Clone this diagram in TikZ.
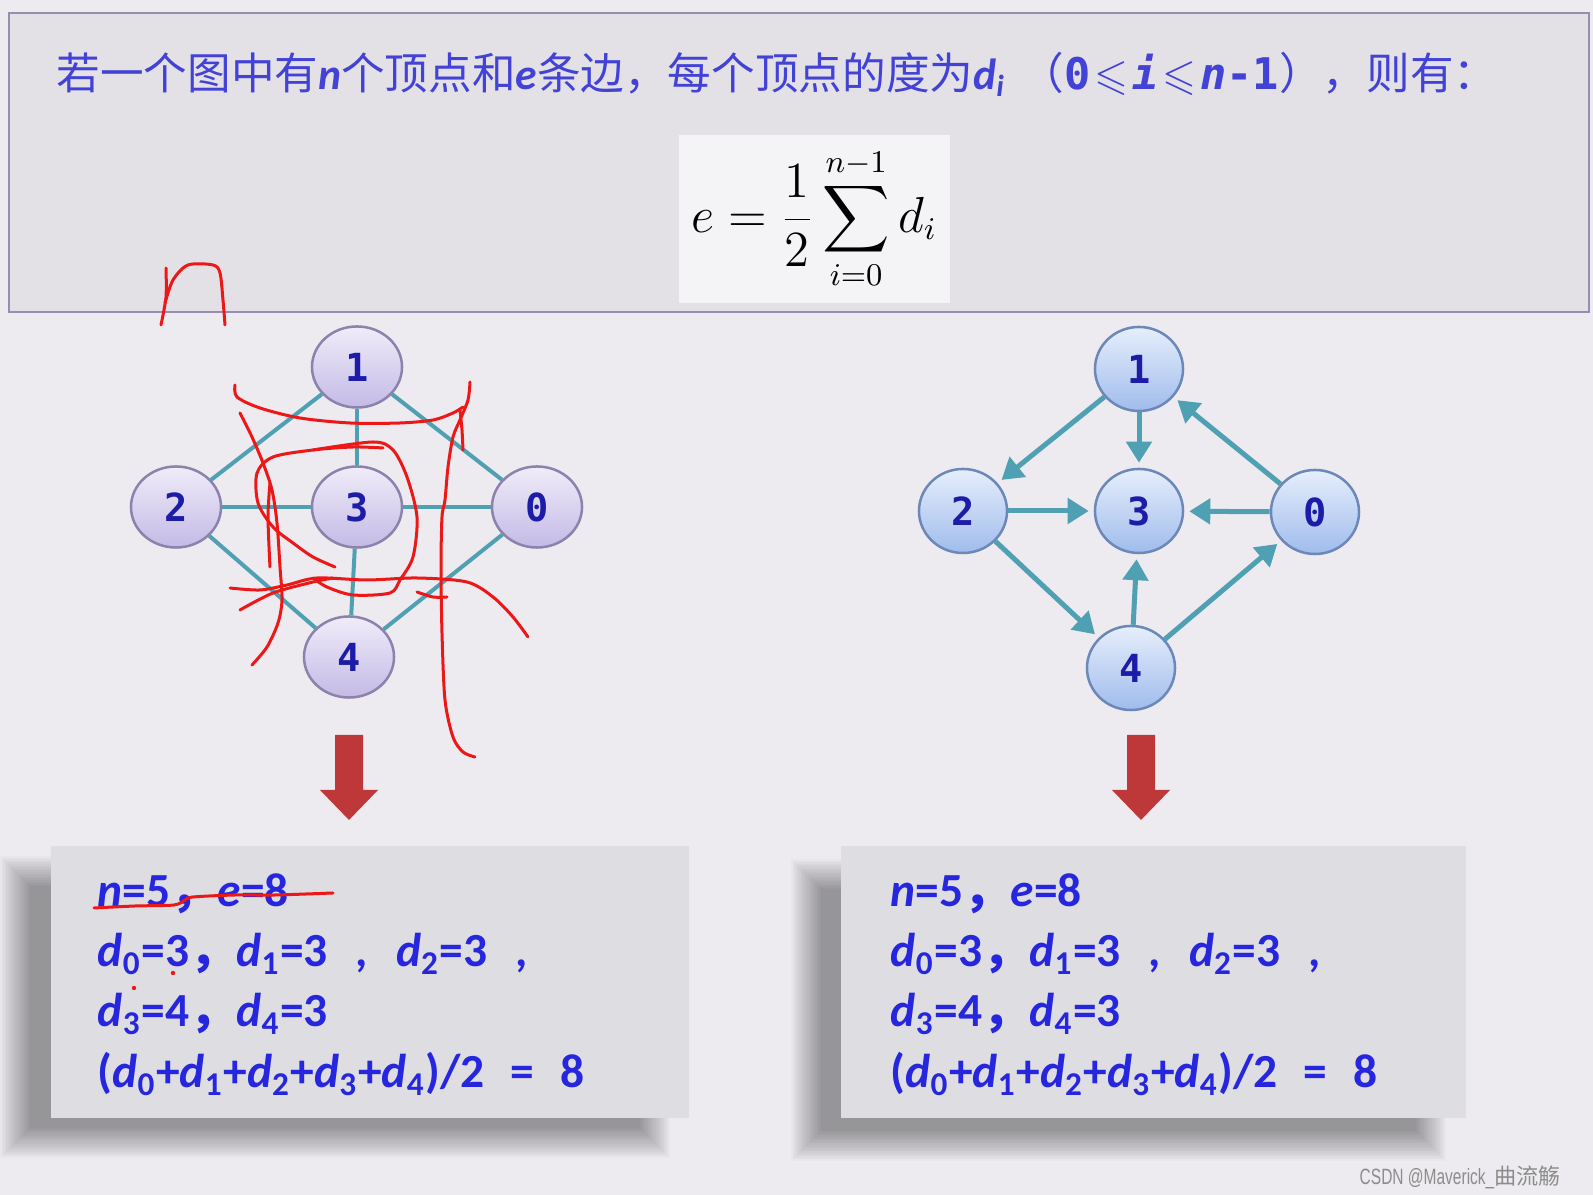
\documentclass[tikz,border=0pt]{standalone}
\usepackage{fontspec}
\usepackage{amssymb}
\setmainfont{Carlito}
\newfontfamily\cjk{Noto Sans CJK SC}
\newfontfamily\numfont{DejaVu Sans Mono}
\newfontfamily\wmfont[FakeStretch=0.7]{Liberation Sans}
\usetikzlibrary{positioning,arrows.meta,shapes.geometric}

\definecolor{pagebg}{RGB}{237,235,239}
\definecolor{headbg}{RGB}{227,225,230}
\definecolor{headline}{RGB}{150,142,178}
\definecolor{eqbg}{RGB}{244,243,245}
\definecolor{inkblue}{RGB}{66,66,214}
\definecolor{txtblue}{RGB}{38,38,222}
\definecolor{numblue}{RGB}{28,28,168}
\definecolor{edgeteal}{RGB}{78,160,178}
\definecolor{lavtop}{RGB}{240,236,249}
\definecolor{lavbot}{RGB}{196,186,230}
\definecolor{lavrim}{RGB}{140,130,172}
\definecolor{skytop}{RGB}{230,238,252}
\definecolor{skybot}{RGB}{160,188,236}
\definecolor{skyrim}{RGB}{108,136,184}
\definecolor{dropred}{RGB}{190,56,58}
\definecolor{boxbg}{RGB}{222,221,225}
\definecolor{penred}{RGB}{236,24,24}

\newcommand{\dd}[1]{\textit{d}\textsubscript{#1}}
\newcommand{\downblock}[1]{%
  \fill[dropred] ({#1-14},735) -- ({#1+14},735) -- ({#1+14},790) -- ({#1+29},790)
    -- (#1,820) -- ({#1-29},790) -- ({#1-14},790) -- cycle;}

\begin{document}
\begin{tikzpicture}[x=0.01cm, y=-0.01cm, >=Stealth,
  vtx/.style={ellipse, draw=lavrim, line width=0.25mm, top color=lavtop, bottom color=lavbot,
    minimum width=9mm, minimum height=8.1mm, inner sep=0pt, text=numblue,
    font=\numfont\bfseries\fontsize{11}{13}\selectfont},
  dvtx/.style={vtx, draw=skyrim, top color=skytop, bottom color=skybot,
    minimum width=8.8mm, minimum height=8.4mm},
  edg/.style={draw=edgeteal, line width=0.4mm},
  darc/.style={edg, line width=0.5mm, -{Triangle[length=2.1mm,width=2.5mm]}, shorten >=0.5mm},
  ink/.style={draw=penred, line width=0.3mm, line cap=round, line join=round},
  row/.style={anchor=base west, inner sep=0pt, text=txtblue,
    font=\bfseries\fontsize{13.5}{16}\selectfont}]
  \fill[pagebg] (0,0) rectangle (1593,1195);
  \useasboundingbox (0,0) rectangle (1593,1195);

  % heading panel
  \filldraw[fill=headbg, draw=headline, line width=0.25mm] (9,13) rectangle (1589,312);
  \node[anchor=base west, inner sep=0pt, text=inkblue, font=\cjk\fontsize{12.4}{14}\selectfont] (head) at (56,90)
    {若一个图中有{\rmfamily\bfseries\itshape n}个顶点和{\rmfamily\bfseries\itshape e}条边，每个顶点的度为{\rmfamily\bfseries\itshape d\textsubscript{i}}\hspace{1.5mm}（{\numfont\bfseries 0\hspace{0.4mm}$\leqslant$\hspace{0.4mm}\itshape i\upshape\hspace{0.4mm}$\leqslant$\hspace{0.4mm}\itshape n\upshape -1}），则有：};
  \fill[eqbg] (679,135) rectangle (950,303);
  \node[font=\fontsize{13.3}{16}\selectfont] (eq) at (814,219) {$\displaystyle e=\frac{1}{2}\sum_{i=0}^{n-1}d_i$};

  % undirected graph
  \node[vtx] (a1) at (357,367) {1};
  \node[vtx] (a2) at (176,507) {2};
  \node[vtx] (a3) at (357,507) {3};
  \node[vtx] (a0) at (537,507) {0};
  \node[vtx] (a4) at (349,657) {4};
  \draw[edg] (a1) -- (a2);
  \draw[edg] (a1) -- (a0);
  \draw[edg] (a1) -- (a3);
  \draw[edg] (a2) -- (a3);
  \draw[edg] (a3) -- (a0);
  \draw[edg] (a2) -- (a4);
  \draw[edg] (a4) -- (a0);
  \draw[edg] (a3) -- (a4);

  % directed graph
  \node[dvtx] (b1) at (1139,369) {1};
  \node[dvtx] (b2) at (963,511) {2};
  \node[dvtx] (b3) at (1139,511) {3};
  \node[dvtx] (b0) at (1315,512) {0};
  \node[dvtx] (b4) at (1131,668) {4};
  \draw[darc] (b1) -- (b2);
  \draw[darc] (b1) -- (b3);
  \draw[darc] (b0) -- (b1);
  \draw[darc] (b2) -- (b3);
  \draw[darc] (b0) -- (b3);
  \draw[darc] (b2) -- (b4);
  \draw[darc] (b4) -- (b3);
  \draw[darc] (b4) -- (b0);

  \downblock{349}
  \downblock{1141}

  % result panels with soft shadow
  \foreach \k in {0,...,19} {
    \fill[black, opacity=0.02] ({0+1.6*\k},{856+1.6*\k}) rectangle ({670-1.6*\k},{1158-1.6*\k});
    \fill[black, opacity=0.02] ({791+1.6*\k},{859+1.6*\k}) rectangle ({1446-1.6*\k},{1161-1.6*\k});
  }
  \fill[boxbg] (51,846) rectangle (689,1118);
  \fill[boxbg] (841,846) rectangle (1466,1118);

  \node[row] (l1) at (97,907)  {\textit{n}=5{\cjk ，}\textit{e}=8};
  \node[row] (l2) at (97,967)  {\dd{0}=3{\cjk ，}\dd{1}=3\hspace{2.8mm},\hspace{2.8mm}\dd{2}=3\hspace{2.8mm},};
  \node[row] (l3) at (97,1027) {\dd{3}=4{\cjk ，}\dd{4}=3};
  \node[row] (l4) at (97,1088) {(\dd{0}+\dd{1}+\dd{2}+\dd{3}+\dd{4})/2\hspace{2.6mm}=\hspace{2.6mm}8};
  \node[row] (r1) at (890,907)  {\textit{n}=5{\cjk ，}\textit{e}=8};
  \node[row] (r2) at (890,967)  {\dd{0}=3{\cjk ，}\dd{1}=3\hspace{2.8mm},\hspace{2.8mm}\dd{2}=3\hspace{2.8mm},};
  \node[row] (r3) at (890,1027) {\dd{3}=4{\cjk ，}\dd{4}=3};
  \node[row] (r4) at (890,1088) {(\dd{0}+\dd{1}+\dd{2}+\dd{3}+\dd{4})/2\hspace{2.6mm}=\hspace{2.6mm}8};

  % red pen marks
  \draw[ink] plot[smooth] coordinates {(166,268) (166,297) (161,325)};
  \draw[ink] plot[smooth] coordinates {(165,303) (173,280) (188,265) (213,265) (220,273) (223,300) (225,325)};
  \draw[ink] plot[smooth] coordinates {(235,385) (237,397) (260,408) (300,418) (350,423) (400,423) (433,420) (453,413) (463,407)};
  \draw[ink] plot[smooth] coordinates {(470,382) (468,400) (460,420) (453,437) (448,467) (445,500) (442,517) (441,567) (442,633) (445,700) (453,737) (463,752) (475,757)};
  \draw[ink] plot[smooth] coordinates {(460,410) (462,430) (463,450)};
  \draw[ink] plot[smooth] coordinates {(240,413) (252,437) (263,463) (272,490) (277,523) (280,567) (282,600) (278,623) (267,647) (252,665)};
  \draw[ink] plot[smooth] coordinates {(270,483) (268,517) (270,567)};
  \draw[ink] plot[smooth] coordinates {(383,448) (353,447) (313,450) (273,457) (257,473) (258,503) (273,527) (293,543) (313,557) (335,567)};
  \draw[ink] plot[smooth] coordinates {(313,450) (373,442) (393,450) (407,477) (417,517) (413,557) (400,580) (390,593) (353,595) (327,587) (313,578)};
  \draw[ink] plot[smooth] coordinates {(230,588) (260,590) (287,585) (317,578) (367,580) (417,578) (467,582) (493,597) (513,617) (528,637)};
  \draw[ink] plot[smooth] coordinates {(240,610) (273,593) (313,582) (333,578)};
  \draw[ink] plot[smooth] coordinates {(417,592) (433,597) (447,597)};
  \draw[ink] plot[smooth] coordinates {(94,908) (135,906) (174,905) (185,900) (193,897) (235,895) (275,895) (333,893)};
  \fill[penred] (134,988) circle (2.2);
  \fill[penred] (173,973) circle (2.2);

  \node[anchor=west, inner sep=0pt, text=black!45, font=\wmfont\fontsize{6.3}{8}\selectfont] (wm) at (1359,1177)
    {CSDN @Maverick\_{\cjk 曲流觞}};
\end{tikzpicture}
\end{document}
